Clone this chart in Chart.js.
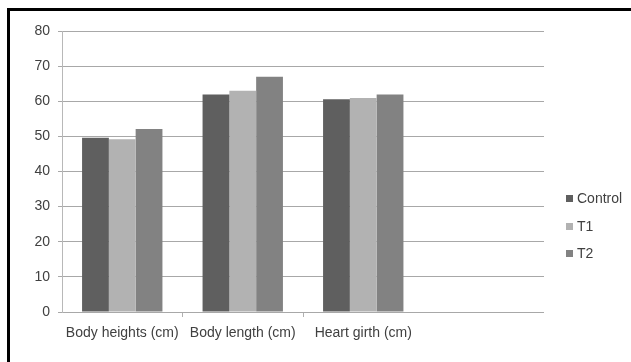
<!DOCTYPE html>
<html>
<head>
<meta charset="utf-8">
<script src="https://cdn.jsdelivr.net/npm/chart.js@4"></script>
<style>
  html, body { margin: 0; padding: 0; background: #fff; overflow: hidden; }
  #wrap { position: relative; width: 631px; height: 362px; overflow: hidden; }
  #frame { position: absolute; left: 7px; top: 8px; width: 700px; height: 400px; border: 3px solid #000; }
  #chart { position: absolute; left: 0; top: 0; }
  #legend { position: absolute; left: 566px; top: 190px; font: 14px "Liberation Sans", sans-serif; line-height: 16px; color: #404040; }
  .item { height: 27.5px; display: flex; align-items: flex-start; }
  .box { width: 7px; height: 7px; margin: 5px 4px 0 0; }
</style>
</head>
<body>
<div id="wrap">
  <div id="frame"></div>
  <canvas id="chart" width="631" height="362"></canvas>
  <div id="legend"></div>
</div>
<script>
// categories (4th slot is empty in the original chart)
const categories = ['Body heights (cm)', 'Body length (cm)', 'Heart girth (cm)', ''];
const seriesNames = ['Control', 'T1', 'T2'];
const controlValues = [49.6, 61.9, 60.6, null];
const t1Values = [49.2, 63.0, 60.9, null];
const t2Values = [52.1, 67.0, 61.9, null];
const colors = ['#5f5f5f', '#b2b2b2', '#828282'];
const yTicks = [0, 10, 20, 30, 40, 50, 60, 70, 80];

const datasets = [controlValues, t1Values, t2Values].map((vals, i) => ({
  label: seriesNames[i],
  data: vals,
  backgroundColor: colors[i],
  borderWidth: 0,
  barPercentage: 1,
  categoryPercentage: 0.667
}));

new Chart(document.getElementById('chart').getContext('2d'), {
  type: 'bar',
  data: { labels: categories, datasets },
  options: {
    responsive: false,
    animation: false,
    layout: { padding: { left: 0, right: 87, top: 31, bottom: 0 } },
    plugins: { legend: { display: false }, tooltip: { enabled: false } },
    scales: {
      x: {
        grid: {
          display: true, drawOnChartArea: false, offset: true, tickLength: 5,
          color: ctx => (ctx.index > 0 && ctx.index < 3) ? '#b0b0b0' : 'rgba(0,0,0,0)'
        },
        border: { display: false },
        ticks: { padding: 8, color: '#404040', font: { family: 'Liberation Sans', size: 14 }, maxRotation: 0 },
        afterFit: s => { s.height = 50; }
      },
      y: {
        min: 0, max: 80,
        afterBuildTicks: s => { s.ticks = yTicks.map(v => ({ value: v })); },
        grid: { color: '#a8a8a8', lineWidth: 1, tickLength: 4 },
        border: { display: true, color: '#b8b8b8', width: 1 },
        ticks: { padding: 8, color: '#404040', font: { family: 'Liberation Sans', size: 14 } },
        afterFit: s => { s.width = 62; }
      }
    }
  }
});

// html legend
const legend = document.getElementById('legend');
seriesNames.forEach((name, i) => {
  const row = document.createElement('div');
  row.className = 'item';
  row.innerHTML = `<span class="box" style="background:${colors[i]}"></span><span>${name}</span>`;
  legend.appendChild(row);
});
</script>
</body>
</html>
